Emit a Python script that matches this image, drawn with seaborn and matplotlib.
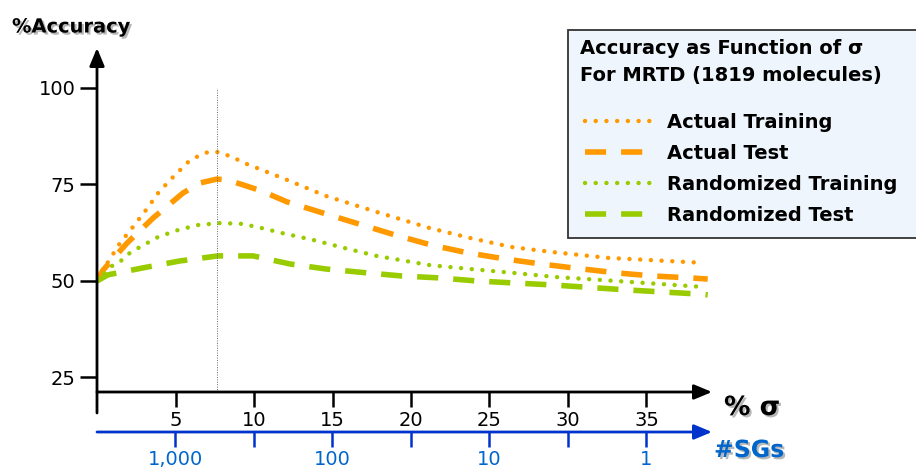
import matplotlib
matplotlib.use("Agg")
import matplotlib.pyplot as plt
import matplotlib.patheffects as pe
from matplotlib.patches import Rectangle
import seaborn as sns

# ---------------- data ----------------
sigma_actual_train = [0, 0.7, 1.46, 2.29, 3.18, 3.95, 4.84, 5.8, 6.5, 7.07, 7.71, 8.5, 9.55,
                      12.1, 14.6, 17.8, 21.2, 23.8, 26.4, 29.0, 32.5, 38.6]
acc_actual_train = [50.0, 54.9, 59.8, 64.0, 68.7, 73.1, 76.9, 80.8, 82.5, 83.4, 83.4, 82.3,
                    80.3, 76.2, 72.0, 67.9, 63.7, 61.1, 58.8, 57.5, 56.0, 54.7]

sigma_actual_test = [0, 0.38, 1.91, 3.57, 5.48, 6.56, 7.64, 8.28, 9.3, 10.5, 12.1, 14.4,
                     16.9, 19.0, 21.3, 23.6, 26.0, 28.3, 30.3, 33.1, 35.4, 37.8, 38.9]
acc_actual_test = [50.0, 52.8, 59.8, 66.3, 72.8, 75.4, 76.4, 76.2, 74.9, 73.3, 70.5, 67.6,
                   64.5, 61.9, 59.3, 57.3, 55.7, 54.4, 53.4, 52.1, 51.3, 50.8, 50.5]

sigma_rand_train = [0, 0.83, 1.59, 2.1, 2.74, 3.89, 5.16, 6.43, 7.83, 9.24, 10.5, 11.8,
                    13.8, 15.8, 17.8, 21.2, 23.8, 26.5, 29.3, 32.0, 38.8]
acc_rand_train = [50.0, 53.6, 55.4, 57.3, 58.8, 61.4, 63.2, 64.5, 65.0, 64.8, 63.7, 62.4,
                  60.6, 58.5, 56.5, 54.1, 53.1, 52.1, 51.0, 50.3, 48.4]

sigma_rand_test = [0, 0.7, 2.93, 5.29, 7.71, 9.94, 12.3, 14.6, 17.2, 19.4, 21.8, 24.2,
                   26.5, 28.9, 33.7, 38.4, 38.9]
acc_rand_test = [50.0, 51.6, 53.4, 55.2, 56.5, 56.5, 54.4, 53.1, 52.1, 51.3, 50.8, 50.0,
                 49.5, 49.0, 47.7, 46.6, 46.4]

series_labels = ["Actual Training", "Actual Test", "Randomized Training", "Randomized Test"]
sigma_ticks = [5, 10, 15, 20, 25, 30, 35]
sg_tick_labels = ["1,000", "", "100", "", "10", "", "1"]
acc_ticks = [25, 50, 75, 100]
peak_sigma = 7.64
legend_title_1 = "Accuracy as Function of σ"
legend_title_2 = "For MRTD (1819 molecules)"

# ---------------- figure ----------------
plt.rcParams["font.family"] = ["DejaVu Sans"]
W, H = 916, 473
fig = plt.figure(figsize=(W / 100, H / 100), dpi=100)


def fx(px):
    return px / W


def fy(py):
    return 1 - py / H


ax = fig.add_axes([fx(97), fy(392), fx(712) - fx(97), fy(48) - fy(392)])
ax.patch.set_alpha(0)

ORANGE = "#FF9900"
GREEN = "#99CC00"
BLUE = "#0033CC"
LBLUE = "#0066CC"
DOT = (0, (0.01, 2.4))
DASH = (0, (3.8, 2.7))

specs = [
    (sigma_actual_train, acc_actual_train, ORANGE, DOT, 3.2, "round"),
    (sigma_actual_test, acc_actual_test, ORANGE, DASH, 4.0, "butt"),
    (sigma_rand_train, acc_rand_train, GREEN, DOT, 3.2, "round"),
    (sigma_rand_test, acc_rand_test, GREEN, DASH, 4.0, "butt"),
]
for (xs, ys, col, ls, lw, cap), lab in zip(specs, series_labels):
    sns.lineplot(x=xs, y=ys, ax=ax, color=col, linestyle=ls, linewidth=lw,
                 dash_capstyle=cap, solid_joinstyle="round", label=lab, legend=False)

ax.set_xlim(0, 615 / 15.7)
ax.set_ylim(21.24, 110.36)
ax.vlines(peak_sigma, 21.24, 100, colors="#666666", linestyles=(0, (1, 1.5)), linewidth=0.7)

for s in ax.spines.values():
    s.set_visible(False)
ax.set_xlabel("")
ax.set_ylabel("")
ax.set_xticks(sigma_ticks)
ax.set_yticks(acc_ticks)
ax.tick_params(axis="x", length=11, width=1.8, pad=3, labelsize=14, direction="out")
ax.tick_params(axis="y", length=12, width=1.8, pad=3.5, labelsize=14, direction="out")

arrow_kw = dict(arrowstyle="-|>,head_length=0.6,head_width=0.25", mutation_scale=18,
                lw=2, shrinkA=0, shrinkB=0)
ax.annotate("", xy=(0, 1), xytext=(0, -0.061), xycoords="axes fraction",
            arrowprops=dict(color="black", **arrow_kw), annotation_clip=False)
ax.annotate("", xy=(1, 0), xytext=(0, 0), xycoords="axes fraction",
            arrowprops=dict(color="black", **arrow_kw), annotation_clip=False)

# secondary (#SGs) axis
sec_loc = -40 / 344
sec = ax.secondary_xaxis(sec_loc)
sec.set_xticks(sigma_ticks, labels=sg_tick_labels)
sec.tick_params(length=11, width=1.8, color=BLUE, labelcolor=LBLUE, labelsize=14, pad=2)
for s in sec.spines.values():
    s.set_visible(False)
ax.annotate("", xy=(1, sec_loc), xytext=(0, sec_loc), xycoords="axes fraction",
            arrowprops=dict(color=BLUE, **arrow_kw), annotation_clip=False)

shadow = [pe.SimplePatchShadow(offset=(1.5, -1.5), shadow_rgbFace="#999999", alpha=0.7),
          pe.Normal()]
fig.text(fx(12), fy(27), "%Accuracy", fontsize=14, weight="bold", va="center",
         path_effects=shadow)
fig.text(fx(724), fy(408), "% σ", fontsize=19, weight="bold", va="center",
         path_effects=shadow)
fig.text(fx(714), fy(450), "#SGs", fontsize=17, weight="bold", va="center",
         color=LBLUE, path_effects=shadow)

# legend box
fig.patches.append(Rectangle((fx(568), fy(238)), fx(945) - fx(568), fy(30) - fy(238),
                             transform=fig.transFigure, facecolor="#EEF5FC",
                             edgecolor="#333333", lw=1.3, zorder=1))
fig.text(fx(580), fy(48), legend_title_1, fontsize=14, weight="bold", va="center", zorder=3)
fig.text(fx(580), fy(75), legend_title_2, fontsize=14, weight="bold", va="center", zorder=3)
handles = ax.get_lines()[:4]
fig.legend(handles, series_labels, loc="upper left",
           bbox_to_anchor=(fx(585), fy(113)), bbox_transform=fig.transFigure,
           frameon=False, borderpad=0, borderaxespad=0, handlelength=3.7,
           handletextpad=0.5, labelspacing=0.62,
           prop={"weight": "bold", "size": 14})

fig.savefig("out.png", dpi=100)
